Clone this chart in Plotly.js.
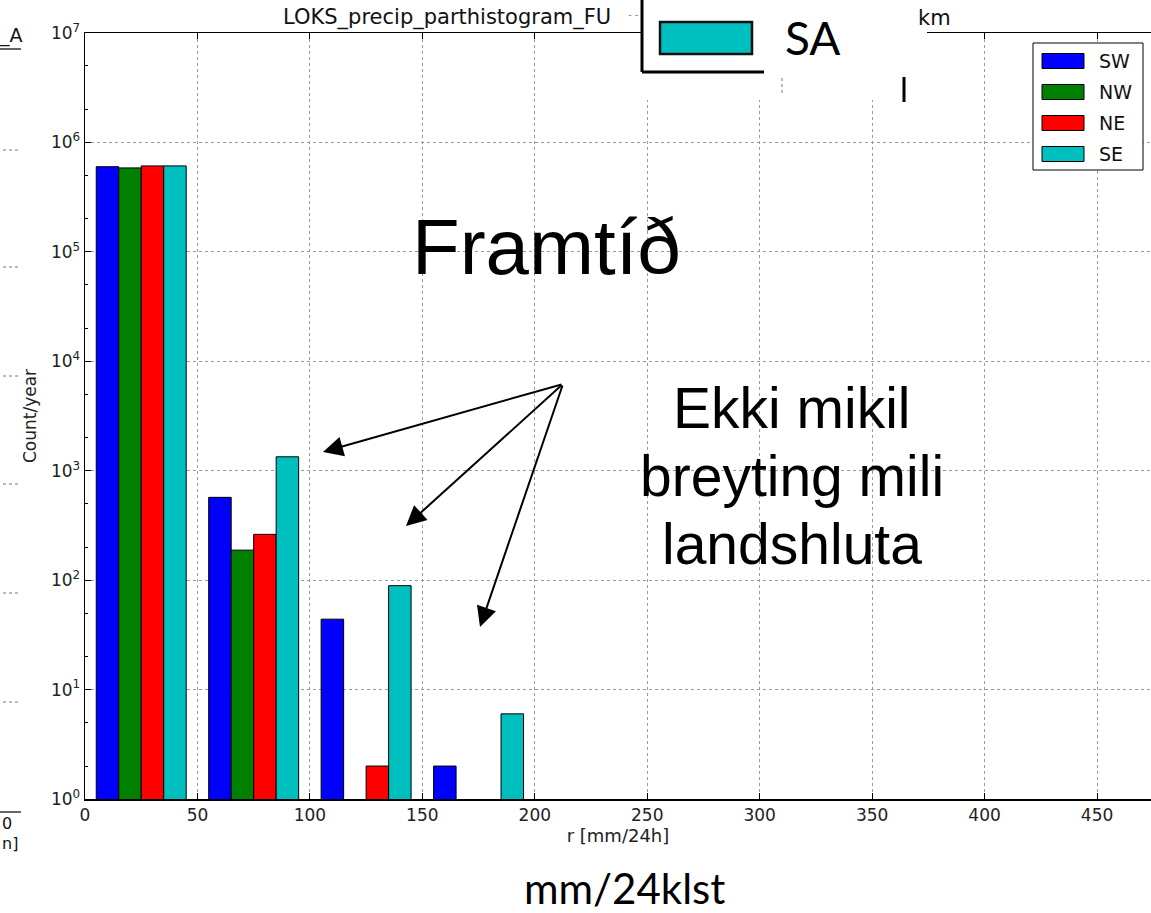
<!DOCTYPE html>
<html>
<head>
<meta charset="utf-8">
<script src="https://cdn.plot.ly/plotly-3.0.1.min.js"></script>
<style>
  html, body { margin: 0; padding: 0; background: #ffffff; }
  #chart { width: 1151px; height: 913px; }
</style>
</head>
<body>
<div id="chart"></div>
<script>
// ---- data ----
const binStarts = [0, 50, 100, 150];          // histogram bins (mm/24h), width 50
const binWidth = 50;
const seriesNames = ['SW', 'NW', 'NE', 'SE'];
const seriesColors = ['#0000ff', '#008000', '#ff0000', '#00bfbf'];
const swCounts = [6.0e5, 571, 44, 2];
const nwCounts = [5.85e5, 188, null, null];
const neCounts = [6.1e5, 262, 2, null];
const seCounts = [6.1e5, 1340, 89, 6];
const seriesCounts = [swCounts, nwCounts, neCounts, seCounts];
const xTickVals = [0, 50, 100, 150, 200, 250, 300, 350, 400, 450];
const yTickVals = [1, 10, 100, 1000, 1e4, 1e5, 1e6, 1e7];
const yTickText = ['10<sup>0</sup>', '10<sup>1</sup>', '10<sup>2</sup>', '10<sup>3</sup>',
                   '10<sup>4</sup>', '10<sup>5</sup>', '10<sup>6</sup>', '10<sup>7</sup>'];

// ---- layout helpers (page pixel -> paper coords) ----
const W = 1151, H = 913;
const mL = 85, mR = 0, mT = 33, mB = 114;
const plotW = W - mL - mR, plotH = H - mT - mB;
const px = x => (x - mL) / plotW;
const py = y => (H - mB - y) / plotH;

const barW = 0.2 * binWidth;
const traces = seriesNames.map((name, i) => ({
  type: 'bar',
  name: name,
  x: binStarts.map(b => b + 0.1 * binWidth + (i + 0.5) * barW),
  y: seriesCounts[i],
  width: binStarts.map(() => barW),
  marker: { color: seriesColors[i], line: { color: '#000000', width: 1 } },
  showlegend: false,
  hoverinfo: 'x+y+name'
}));

const dejavu = 'DejaVu Sans, sans-serif';
const shapes = [];
const annotations = [];

// custom matplotlib-style legend (upper right)
shapes.push({ type: 'rect', xref: 'paper', yref: 'paper', layer: 'above',
  x0: px(1033), x1: px(1143), y0: py(43), y1: py(170),
  fillcolor: '#ffffff', line: { color: '#000000', width: 1 } });
const legRowY = [61, 92, 123, 154];
seriesNames.forEach((name, i) => {
  shapes.push({ type: 'rect', xref: 'paper', yref: 'paper', layer: 'above',
    x0: px(1042), x1: px(1084), y0: py(legRowY[i] - 7.5), y1: py(legRowY[i] + 7.5),
    fillcolor: seriesColors[i], line: { color: '#000000', width: 1 } });
  annotations.push({ xref: 'paper', yref: 'paper', x: px(1097), y: py(legRowY[i]),
    xanchor: 'left', yanchor: 'middle', text: name, showarrow: false,
    font: { family: dejavu, size: 19, color: '#111111' } });
});

// visible pieces of the matplotlib title
annotations.push({ xref: 'paper', yref: 'paper', x: px(281), y: py(18), xanchor: 'left', yanchor: 'middle',
  text: 'LOKS_precip_parthistogram_FU', showarrow: false, font: { family: dejavu, size: 21, color: '#111111' } });
annotations.push({ xref: 'paper', yref: 'paper', x: px(953), y: py(18), xanchor: 'right', yanchor: 'middle',
  text: 'km', showarrow: false, font: { family: dejavu, size: 21, color: '#111111' } });
annotations.push({ xref: 'paper', yref: 'paper', x: px(633), y: py(15), xanchor: 'center', yanchor: 'middle',
  text: '- -', showarrow: false, font: { family: dejavu, size: 10, color: '#888888' } });

// overlay "SA" legend fragment (from another figure on the slide)
shapes.push({ type: 'rect', xref: 'paper', yref: 'paper', layer: 'above',
  x0: px(642), x1: px(927), y0: py(0), y1: py(100), fillcolor: '#ffffff', line: { width: 0 } });
shapes.push({ type: 'line', xref: 'paper', yref: 'paper', layer: 'above',
  x0: px(642), x1: px(642), y0: py(-2), y1: py(72), line: { color: '#000000', width: 3 } });
shapes.push({ type: 'line', xref: 'paper', yref: 'paper', layer: 'above',
  x0: px(642), x1: px(764), y0: py(72), y1: py(72), line: { color: '#000000', width: 3 } });
shapes.push({ type: 'rect', xref: 'paper', yref: 'paper', layer: 'above',
  x0: px(660), x1: px(752), y0: py(22), y1: py(54), fillcolor: '#00bfbf', line: { color: '#111111', width: 2.5 } });
shapes.push({ type: 'line', xref: 'paper', yref: 'paper', layer: 'above',
  x0: px(904), x1: px(904), y0: py(77), y1: py(102), line: { color: '#000000', width: 3 } });
shapes.push({ type: 'line', xref: 'paper', yref: 'paper', layer: 'above',
  x0: px(782), x1: px(782), y0: py(78), y1: py(95), line: { color: '#777777', width: 1, dash: 'dot' } });
annotations.push({ xref: 'paper', yref: 'paper', x: px(783), y: py(37), xanchor: 'left', yanchor: 'middle',
  text: 'SA', showarrow: false, font: { family: 'Lato, sans-serif', size: 46, color: '#000000' } });

// slide annotations
annotations.push({ xref: 'paper', yref: 'paper', x: px(546), y: py(247), xanchor: 'center', yanchor: 'middle',
  text: 'Framtíð', showarrow: false, font: { family: 'Liberation Sans, Arial, sans-serif', size: 78, color: '#000000' } });
const noteLines = ['Ekki mikil', 'breyting mili', 'landshluta'];
const noteY = [408, 476, 544];
noteLines.forEach((t, i) => annotations.push({ xref: 'paper', yref: 'paper', x: px(792), y: py(noteY[i]),
  xanchor: 'center', yanchor: 'middle', text: t, showarrow: false,
  font: { family: 'Liberation Sans, Arial, sans-serif', size: 57, color: '#000000' } }));
const arrowTail = [563, 384];
const arrowTips = [[323, 452], [406, 526], [480, 627]];
arrowTips.forEach(([tx, ty]) => annotations.push({ xref: 'paper', yref: 'paper', x: px(tx), y: py(ty),
  ax: arrowTail[0] - tx, ay: arrowTail[1] - ty, text: '', showarrow: true,
  arrowhead: 2, arrowsize: 2, arrowwidth: 2, arrowcolor: '#000000', standoff: 0 }));
annotations.push({ xref: 'paper', yref: 'paper', x: px(624), y: py(888), xanchor: 'center', yanchor: 'middle',
  text: 'mm/24klst', showarrow: false, font: { family: 'Lato, sans-serif', size: 42, color: '#000000' } });

// fragments of the figure behind on the left edge
annotations.push({ xref: 'paper', yref: 'paper', x: px(-3), y: py(35), xanchor: 'left', yanchor: 'middle',
  text: '_A', showarrow: false, font: { family: dejavu, size: 19, color: '#111111' } });
shapes.push({ type: 'line', xref: 'paper', yref: 'paper', x0: px(0), x1: px(21), y0: py(49), y1: py(49),
  line: { color: '#333333', width: 1.5 } });
[150, 267, 376, 484, 593, 702].forEach(y => shapes.push({ type: 'line', xref: 'paper', yref: 'paper',
  x0: px(3), x1: px(20), y0: py(y), y1: py(y), line: { color: '#777777', width: 1, dash: 'dot' } }));
shapes.push({ type: 'line', xref: 'paper', yref: 'paper', x0: px(0), x1: px(21), y0: py(812), y1: py(812),
  line: { color: '#333333', width: 1.5 } });
annotations.push({ xref: 'paper', yref: 'paper', x: px(0), y: py(823), xanchor: 'left', yanchor: 'middle',
  text: '0', showarrow: false, font: { family: dejavu, size: 16, color: '#111111' } });
annotations.push({ xref: 'paper', yref: 'paper', x: px(0), y: py(844), xanchor: 'left', yanchor: 'middle',
  text: 'n]', showarrow: false, font: { family: dejavu, size: 16, color: '#111111' } });

const layout = {
  width: W, height: H,
  margin: { l: mL, r: mR, t: mT, b: mB, pad: 0 },
  paper_bgcolor: '#ffffff', plot_bgcolor: '#ffffff',
  barmode: 'overlay',
  showlegend: false,
  font: { family: dejavu, color: '#111111' },
  xaxis: {
    range: [0, 474], tickvals: xTickVals, ticks: 'inside', ticklen: 6, tickcolor: '#000000',
    showline: true, linecolor: '#000000', linewidth: 1.5, mirror: 'ticks',
    showgrid: true, gridcolor: '#9a9a9a', griddash: 'dot', gridwidth: 1, zeroline: false,
    tickfont: { family: dejavu, size: 17, color: '#222222' },
    title: { text: 'r [mm/24h]', font: { family: dejavu, size: 18, color: '#222222' }, standoff: 0 },
    automargin: false
  },
  yaxis: {
    type: 'log', range: [0, 7], tickvals: yTickVals, ticktext: yTickText,
    ticks: 'inside', ticklen: 6, tickcolor: '#000000',
    minor: { ticks: 'inside', ticklen: 3, tickcolor: '#000000', showgrid: false },
    showline: true, linecolor: '#000000', linewidth: 1.5, mirror: false,
    showgrid: true, gridcolor: '#9a9a9a', griddash: 'dot', gridwidth: 1, zeroline: false,
    tickfont: { family: dejavu, size: 17, color: '#222222' },
    title: { text: 'Count/year', font: { family: dejavu, size: 17, color: '#222222' }, standoff: 10 },
    automargin: false
  },
  shapes: shapes,
  annotations: annotations
};

Plotly.newPlot('chart', traces, layout, { displayModeBar: false, staticPlot: true });
</script>
</body>
</html>
